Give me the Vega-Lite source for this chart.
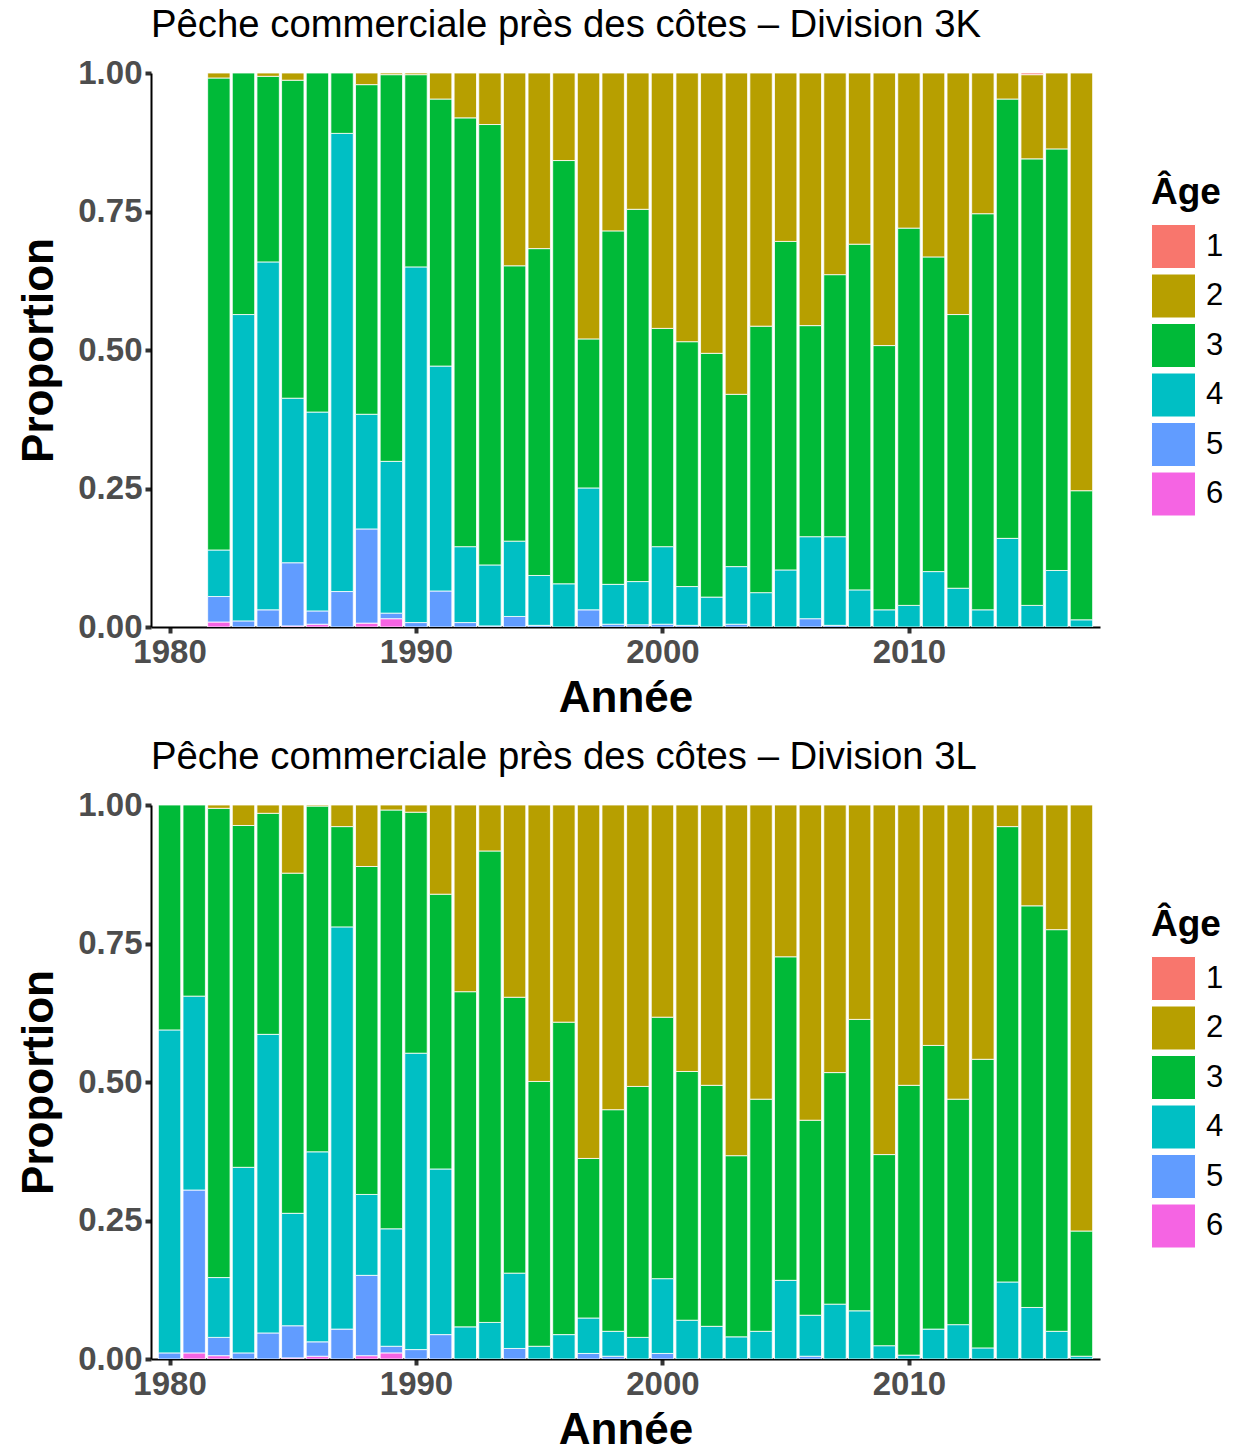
{
 "$schema": "https://vega.github.io/schema/vega-lite/v6.json",
 "padding": {"left": 17, "top": 5, "right": 0, "bottom": 0},
 "background": "white",
 "config": {
  "font": "Liberation Sans",
  "view": {"stroke": null},
  "axis": {"grid": false, "domainColor": "black", "domainWidth": 2, "tickColor": "#333333", "tickWidth": 4, "tickSize": 6, "labelFont": "Liberation Sans", "labelFontWeight": "bold", "labelColor": "#4D4D4D", "labelFontSize": 33, "labelPadding": 3, "titleFont": "Liberation Sans", "titleFontWeight": "bold", "titleColor": "black", "titleFontSize": 44, "titlePadding": 10},
  "axisX": {"titlePadding": 7},
  "legend": {"titleFont": "Liberation Sans", "titleFontSize": 37, "titleFontWeight": "bold", "titleColor": "black", "labelFont": "Liberation Sans", "labelFontSize": 31, "labelColor": "black", "symbolType": "square", "symbolSize": 1936, "symbolStrokeColor": "white", "symbolStrokeWidth": 1, "symbolOpacity": 1, "rowPadding": 0.5, "labelOffset": 10, "titlePadding": 12},
  "title": {"font": "Liberation Sans", "fontSize": 38.3, "fontWeight": "normal", "color": "black", "anchor": "start", "frame": "group", "offset": 12},
  "concat": {"spacing": 17}
 },
 "data": {"values": [
  {"d":"3K","year":1982,"age":"6","p":0.009},{"d":"3K","year":1982,"age":"5","p":0.046},{"d":"3K","year":1982,"age":"4","p":0.084},{"d":"3K","year":1982,"age":"3","p":0.852},{"d":"3K","year":1982,"age":"2","p":0.009},
  {"d":"3K","year":1983,"age":"5","p":0.011},{"d":"3K","year":1983,"age":"4","p":0.553},{"d":"3K","year":1983,"age":"3","p":0.436},
  {"d":"3K","year":1984,"age":"5","p":0.031},{"d":"3K","year":1984,"age":"4","p":0.628},{"d":"3K","year":1984,"age":"3","p":0.335},{"d":"3K","year":1984,"age":"2","p":0.006},
  {"d":"3K","year":1985,"age":"6","p":0.002},{"d":"3K","year":1985,"age":"5","p":0.114},{"d":"3K","year":1985,"age":"4","p":0.297},{"d":"3K","year":1985,"age":"3","p":0.574},{"d":"3K","year":1985,"age":"2","p":0.013},
  {"d":"3K","year":1986,"age":"6","p":0.005},{"d":"3K","year":1986,"age":"5","p":0.024},{"d":"3K","year":1986,"age":"4","p":0.359},{"d":"3K","year":1986,"age":"3","p":0.612},
  {"d":"3K","year":1987,"age":"5","p":0.064},{"d":"3K","year":1987,"age":"4","p":0.827},{"d":"3K","year":1987,"age":"3","p":0.109},
  {"d":"3K","year":1988,"age":"6","p":0.007},{"d":"3K","year":1988,"age":"5","p":0.170},{"d":"3K","year":1988,"age":"4","p":0.207},{"d":"3K","year":1988,"age":"3","p":0.595},{"d":"3K","year":1988,"age":"2","p":0.021},
  {"d":"3K","year":1989,"age":"6","p":0.015},{"d":"3K","year":1989,"age":"5","p":0.010},{"d":"3K","year":1989,"age":"4","p":0.274},{"d":"3K","year":1989,"age":"3","p":0.698},{"d":"3K","year":1989,"age":"2","p":0.003},
  {"d":"3K","year":1990,"age":"5","p":0.008},{"d":"3K","year":1990,"age":"4","p":0.642},{"d":"3K","year":1990,"age":"3","p":0.347},{"d":"3K","year":1990,"age":"2","p":0.003},
  {"d":"3K","year":1991,"age":"5","p":0.065},{"d":"3K","year":1991,"age":"4","p":0.406},{"d":"3K","year":1991,"age":"3","p":0.482},{"d":"3K","year":1991,"age":"2","p":0.047},
  {"d":"3K","year":1992,"age":"5","p":0.008},{"d":"3K","year":1992,"age":"4","p":0.137},{"d":"3K","year":1992,"age":"3","p":0.774},{"d":"3K","year":1992,"age":"2","p":0.081},
  {"d":"3K","year":1993,"age":"5","p":0.002},{"d":"3K","year":1993,"age":"4","p":0.110},{"d":"3K","year":1993,"age":"3","p":0.795},{"d":"3K","year":1993,"age":"2","p":0.093},
  {"d":"3K","year":1994,"age":"5","p":0.019},{"d":"3K","year":1994,"age":"4","p":0.136},{"d":"3K","year":1994,"age":"3","p":0.497},{"d":"3K","year":1994,"age":"2","p":0.348},
  {"d":"3K","year":1995,"age":"5","p":0.003},{"d":"3K","year":1995,"age":"4","p":0.090},{"d":"3K","year":1995,"age":"3","p":0.590},{"d":"3K","year":1995,"age":"2","p":0.317},
  {"d":"3K","year":1996,"age":"4","p":0.078},{"d":"3K","year":1996,"age":"3","p":0.764},{"d":"3K","year":1996,"age":"2","p":0.158},
  {"d":"3K","year":1997,"age":"5","p":0.031},{"d":"3K","year":1997,"age":"4","p":0.220},{"d":"3K","year":1997,"age":"3","p":0.269},{"d":"3K","year":1997,"age":"2","p":0.480},
  {"d":"3K","year":1998,"age":"5","p":0.005},{"d":"3K","year":1998,"age":"4","p":0.072},{"d":"3K","year":1998,"age":"3","p":0.638},{"d":"3K","year":1998,"age":"2","p":0.285},
  {"d":"3K","year":1999,"age":"5","p":0.004},{"d":"3K","year":1999,"age":"4","p":0.078},{"d":"3K","year":1999,"age":"3","p":0.672},{"d":"3K","year":1999,"age":"2","p":0.246},
  {"d":"3K","year":2000,"age":"5","p":0.005},{"d":"3K","year":2000,"age":"4","p":0.140},{"d":"3K","year":2000,"age":"3","p":0.394},{"d":"3K","year":2000,"age":"2","p":0.461},
  {"d":"3K","year":2001,"age":"5","p":0.003},{"d":"3K","year":2001,"age":"4","p":0.070},{"d":"3K","year":2001,"age":"3","p":0.442},{"d":"3K","year":2001,"age":"2","p":0.485},
  {"d":"3K","year":2002,"age":"4","p":0.054},{"d":"3K","year":2002,"age":"3","p":0.440},{"d":"3K","year":2002,"age":"2","p":0.506},
  {"d":"3K","year":2003,"age":"5","p":0.005},{"d":"3K","year":2003,"age":"4","p":0.104},{"d":"3K","year":2003,"age":"3","p":0.311},{"d":"3K","year":2003,"age":"2","p":0.580},
  {"d":"3K","year":2004,"age":"4","p":0.062},{"d":"3K","year":2004,"age":"3","p":0.481},{"d":"3K","year":2004,"age":"2","p":0.457},
  {"d":"3K","year":2005,"age":"4","p":0.103},{"d":"3K","year":2005,"age":"3","p":0.593},{"d":"3K","year":2005,"age":"2","p":0.304},
  {"d":"3K","year":2006,"age":"5","p":0.015},{"d":"3K","year":2006,"age":"4","p":0.148},{"d":"3K","year":2006,"age":"3","p":0.381},{"d":"3K","year":2006,"age":"2","p":0.456},
  {"d":"3K","year":2007,"age":"5","p":0.003},{"d":"3K","year":2007,"age":"4","p":0.160},{"d":"3K","year":2007,"age":"3","p":0.473},{"d":"3K","year":2007,"age":"2","p":0.364},
  {"d":"3K","year":2008,"age":"4","p":0.067},{"d":"3K","year":2008,"age":"3","p":0.624},{"d":"3K","year":2008,"age":"2","p":0.309},
  {"d":"3K","year":2009,"age":"4","p":0.031},{"d":"3K","year":2009,"age":"3","p":0.477},{"d":"3K","year":2009,"age":"2","p":0.492},
  {"d":"3K","year":2010,"age":"4","p":0.039},{"d":"3K","year":2010,"age":"3","p":0.681},{"d":"3K","year":2010,"age":"2","p":0.280},
  {"d":"3K","year":2011,"age":"4","p":0.100},{"d":"3K","year":2011,"age":"3","p":0.568},{"d":"3K","year":2011,"age":"2","p":0.332},
  {"d":"3K","year":2012,"age":"4","p":0.070},{"d":"3K","year":2012,"age":"3","p":0.494},{"d":"3K","year":2012,"age":"2","p":0.436},
  {"d":"3K","year":2013,"age":"4","p":0.031},{"d":"3K","year":2013,"age":"3","p":0.715},{"d":"3K","year":2013,"age":"2","p":0.254},
  {"d":"3K","year":2014,"age":"4","p":0.160},{"d":"3K","year":2014,"age":"3","p":0.793},{"d":"3K","year":2014,"age":"2","p":0.047},
  {"d":"3K","year":2015,"age":"4","p":0.039},{"d":"3K","year":2015,"age":"3","p":0.806},{"d":"3K","year":2015,"age":"2","p":0.152},{"d":"3K","year":2015,"age":"1","p":0.003},
  {"d":"3K","year":2016,"age":"4","p":0.102},{"d":"3K","year":2016,"age":"3","p":0.761},{"d":"3K","year":2016,"age":"2","p":0.137},
  {"d":"3K","year":2017,"age":"4","p":0.013},{"d":"3K","year":2017,"age":"3","p":0.233},{"d":"3K","year":2017,"age":"2","p":0.754},
  {"d":"3L","year":1980,"age":"5","p":0.011},{"d":"3L","year":1980,"age":"4","p":0.583},{"d":"3L","year":1980,"age":"3","p":0.406},
  {"d":"3L","year":1981,"age":"6","p":0.011},{"d":"3L","year":1981,"age":"5","p":0.294},{"d":"3L","year":1981,"age":"4","p":0.350},{"d":"3L","year":1981,"age":"3","p":0.345},
  {"d":"3L","year":1982,"age":"6","p":0.006},{"d":"3L","year":1982,"age":"5","p":0.033},{"d":"3L","year":1982,"age":"4","p":0.108},{"d":"3L","year":1982,"age":"3","p":0.847},{"d":"3L","year":1982,"age":"2","p":0.006},
  {"d":"3L","year":1983,"age":"5","p":0.011},{"d":"3L","year":1983,"age":"4","p":0.335},{"d":"3L","year":1983,"age":"3","p":0.617},{"d":"3L","year":1983,"age":"2","p":0.037},
  {"d":"3L","year":1984,"age":"5","p":0.047},{"d":"3L","year":1984,"age":"4","p":0.539},{"d":"3L","year":1984,"age":"3","p":0.399},{"d":"3L","year":1984,"age":"2","p":0.015},
  {"d":"3L","year":1985,"age":"6","p":0.002},{"d":"3L","year":1985,"age":"5","p":0.058},{"d":"3L","year":1985,"age":"4","p":0.203},{"d":"3L","year":1985,"age":"3","p":0.614},{"d":"3L","year":1985,"age":"2","p":0.123},
  {"d":"3L","year":1986,"age":"6","p":0.005},{"d":"3L","year":1986,"age":"5","p":0.026},{"d":"3L","year":1986,"age":"4","p":0.343},{"d":"3L","year":1986,"age":"3","p":0.624},{"d":"3L","year":1986,"age":"2","p":0.002},
  {"d":"3L","year":1987,"age":"5","p":0.054},{"d":"3L","year":1987,"age":"4","p":0.726},{"d":"3L","year":1987,"age":"3","p":0.181},{"d":"3L","year":1987,"age":"2","p":0.039},
  {"d":"3L","year":1988,"age":"6","p":0.006},{"d":"3L","year":1988,"age":"5","p":0.145},{"d":"3L","year":1988,"age":"4","p":0.146},{"d":"3L","year":1988,"age":"3","p":0.592},{"d":"3L","year":1988,"age":"2","p":0.111},
  {"d":"3L","year":1989,"age":"6","p":0.011},{"d":"3L","year":1989,"age":"5","p":0.012},{"d":"3L","year":1989,"age":"4","p":0.212},{"d":"3L","year":1989,"age":"3","p":0.756},{"d":"3L","year":1989,"age":"2","p":0.009},
  {"d":"3L","year":1990,"age":"5","p":0.017},{"d":"3L","year":1990,"age":"4","p":0.535},{"d":"3L","year":1990,"age":"3","p":0.435},{"d":"3L","year":1990,"age":"2","p":0.013},
  {"d":"3L","year":1991,"age":"5","p":0.044},{"d":"3L","year":1991,"age":"4","p":0.299},{"d":"3L","year":1991,"age":"3","p":0.496},{"d":"3L","year":1991,"age":"2","p":0.161},
  {"d":"3L","year":1992,"age":"4","p":0.058},{"d":"3L","year":1992,"age":"3","p":0.605},{"d":"3L","year":1992,"age":"2","p":0.337},
  {"d":"3L","year":1993,"age":"4","p":0.066},{"d":"3L","year":1993,"age":"3","p":0.851},{"d":"3L","year":1993,"age":"2","p":0.083},
  {"d":"3L","year":1994,"age":"5","p":0.019},{"d":"3L","year":1994,"age":"4","p":0.136},{"d":"3L","year":1994,"age":"3","p":0.498},{"d":"3L","year":1994,"age":"2","p":0.347},
  {"d":"3L","year":1995,"age":"4","p":0.023},{"d":"3L","year":1995,"age":"3","p":0.478},{"d":"3L","year":1995,"age":"2","p":0.499},
  {"d":"3L","year":1996,"age":"4","p":0.044},{"d":"3L","year":1996,"age":"3","p":0.564},{"d":"3L","year":1996,"age":"2","p":0.392},
  {"d":"3L","year":1997,"age":"5","p":0.010},{"d":"3L","year":1997,"age":"4","p":0.064},{"d":"3L","year":1997,"age":"3","p":0.288},{"d":"3L","year":1997,"age":"2","p":0.638},
  {"d":"3L","year":1998,"age":"5","p":0.005},{"d":"3L","year":1998,"age":"4","p":0.045},{"d":"3L","year":1998,"age":"3","p":0.400},{"d":"3L","year":1998,"age":"2","p":0.550},
  {"d":"3L","year":1999,"age":"4","p":0.039},{"d":"3L","year":1999,"age":"3","p":0.453},{"d":"3L","year":1999,"age":"2","p":0.508},
  {"d":"3L","year":2000,"age":"5","p":0.010},{"d":"3L","year":2000,"age":"4","p":0.135},{"d":"3L","year":2000,"age":"3","p":0.472},{"d":"3L","year":2000,"age":"2","p":0.383},
  {"d":"3L","year":2001,"age":"4","p":0.070},{"d":"3L","year":2001,"age":"3","p":0.449},{"d":"3L","year":2001,"age":"2","p":0.481},
  {"d":"3L","year":2002,"age":"4","p":0.059},{"d":"3L","year":2002,"age":"3","p":0.435},{"d":"3L","year":2002,"age":"2","p":0.506},
  {"d":"3L","year":2003,"age":"4","p":0.040},{"d":"3L","year":2003,"age":"3","p":0.327},{"d":"3L","year":2003,"age":"2","p":0.633},
  {"d":"3L","year":2004,"age":"4","p":0.050},{"d":"3L","year":2004,"age":"3","p":0.419},{"d":"3L","year":2004,"age":"2","p":0.531},
  {"d":"3L","year":2005,"age":"4","p":0.142},{"d":"3L","year":2005,"age":"3","p":0.584},{"d":"3L","year":2005,"age":"2","p":0.274},
  {"d":"3L","year":2006,"age":"5","p":0.005},{"d":"3L","year":2006,"age":"4","p":0.074},{"d":"3L","year":2006,"age":"3","p":0.352},{"d":"3L","year":2006,"age":"2","p":0.569},
  {"d":"3L","year":2007,"age":"4","p":0.099},{"d":"3L","year":2007,"age":"3","p":0.418},{"d":"3L","year":2007,"age":"2","p":0.483},
  {"d":"3L","year":2008,"age":"4","p":0.087},{"d":"3L","year":2008,"age":"3","p":0.526},{"d":"3L","year":2008,"age":"2","p":0.387},
  {"d":"3L","year":2009,"age":"4","p":0.024},{"d":"3L","year":2009,"age":"3","p":0.345},{"d":"3L","year":2009,"age":"2","p":0.631},
  {"d":"3L","year":2010,"age":"4","p":0.007},{"d":"3L","year":2010,"age":"3","p":0.487},{"d":"3L","year":2010,"age":"2","p":0.506},
  {"d":"3L","year":2011,"age":"4","p":0.054},{"d":"3L","year":2011,"age":"3","p":0.512},{"d":"3L","year":2011,"age":"2","p":0.434},
  {"d":"3L","year":2012,"age":"4","p":0.062},{"d":"3L","year":2012,"age":"3","p":0.407},{"d":"3L","year":2012,"age":"2","p":0.531},
  {"d":"3L","year":2013,"age":"4","p":0.020},{"d":"3L","year":2013,"age":"3","p":0.521},{"d":"3L","year":2013,"age":"2","p":0.459},
  {"d":"3L","year":2014,"age":"4","p":0.139},{"d":"3L","year":2014,"age":"3","p":0.822},{"d":"3L","year":2014,"age":"2","p":0.039},
  {"d":"3L","year":2015,"age":"4","p":0.093},{"d":"3L","year":2015,"age":"3","p":0.725},{"d":"3L","year":2015,"age":"2","p":0.182},
  {"d":"3L","year":2016,"age":"4","p":0.050},{"d":"3L","year":2016,"age":"3","p":0.725},{"d":"3L","year":2016,"age":"2","p":0.225},
  {"d":"3L","year":2017,"age":"4","p":0.005},{"d":"3L","year":2017,"age":"3","p":0.226},{"d":"3L","year":2017,"age":"2","p":0.769}
 ]},
 "vconcat": [
  {
   "title": "Pêche commerciale près des côtes – Division 3K",
   "width": 949, "height": 554,
   "transform": [{"filter": "datum.d === '3K'"}],
   "mark": {"type": "bar", "width": 22.4, "stroke": "white", "strokeWidth": 0.8, "clip": true},
   "encoding": {
    "x": {"field": "year", "type": "quantitative", "scale": {"domain": [1979.45, 2017.55], "nice": false, "zero": false}, "axis": {"values": [1980, 1990, 2000, 2010], "format": "d", "title": "Année", "labelFlush": false}},
    "y": {"field": "p", "type": "quantitative", "stack": "zero", "scale": {"domain": [0, 1], "nice": false}, "axis": {"values": [0, 0.25, 0.5, 0.75, 1], "format": ".2f", "title": "Proportion", "titlePadding": 16}},
    "color": {"field": "age", "type": "nominal", "scale": {"domain": ["1", "2", "3", "4", "5", "6"], "range": ["#F8766D", "#B79F00", "#00BA38", "#00BFC4", "#619CFF", "#F564E3"]}, "legend": {"title": "Âge", "orient": "none", "legendX": 1000, "legendY": 102}},
    "order": {"field": "age", "type": "ordinal", "sort": "descending"}
   }
  },
  {
   "title": "Pêche commerciale près des côtes – Division 3L",
   "width": 949, "height": 554,
   "transform": [{"filter": "datum.d === '3L'"}],
   "mark": {"type": "bar", "width": 22.4, "stroke": "white", "strokeWidth": 0.8, "clip": true},
   "encoding": {
    "x": {"field": "year", "type": "quantitative", "scale": {"domain": [1979.45, 2017.55], "nice": false, "zero": false}, "axis": {"values": [1980, 1990, 2000, 2010], "format": "d", "title": "Année", "labelFlush": false}},
    "y": {"field": "p", "type": "quantitative", "stack": "zero", "scale": {"domain": [0, 1], "nice": false}, "axis": {"values": [0, 0.25, 0.5, 0.75, 1], "format": ".2f", "title": "Proportion", "titlePadding": 16}},
    "color": {"field": "age", "type": "nominal", "scale": {"domain": ["1", "2", "3", "4", "5", "6"], "range": ["#F8766D", "#B79F00", "#00BA38", "#00BFC4", "#619CFF", "#F564E3"]}, "legend": {"title": "Âge", "orient": "none", "legendX": 1000, "legendY": 102}},
    "order": {"field": "age", "type": "ordinal", "sort": "descending"}
   }
  }
 ],
 "resolve": {"scale": {"color": "independent"}, "legend": {"color": "independent"}}
}
